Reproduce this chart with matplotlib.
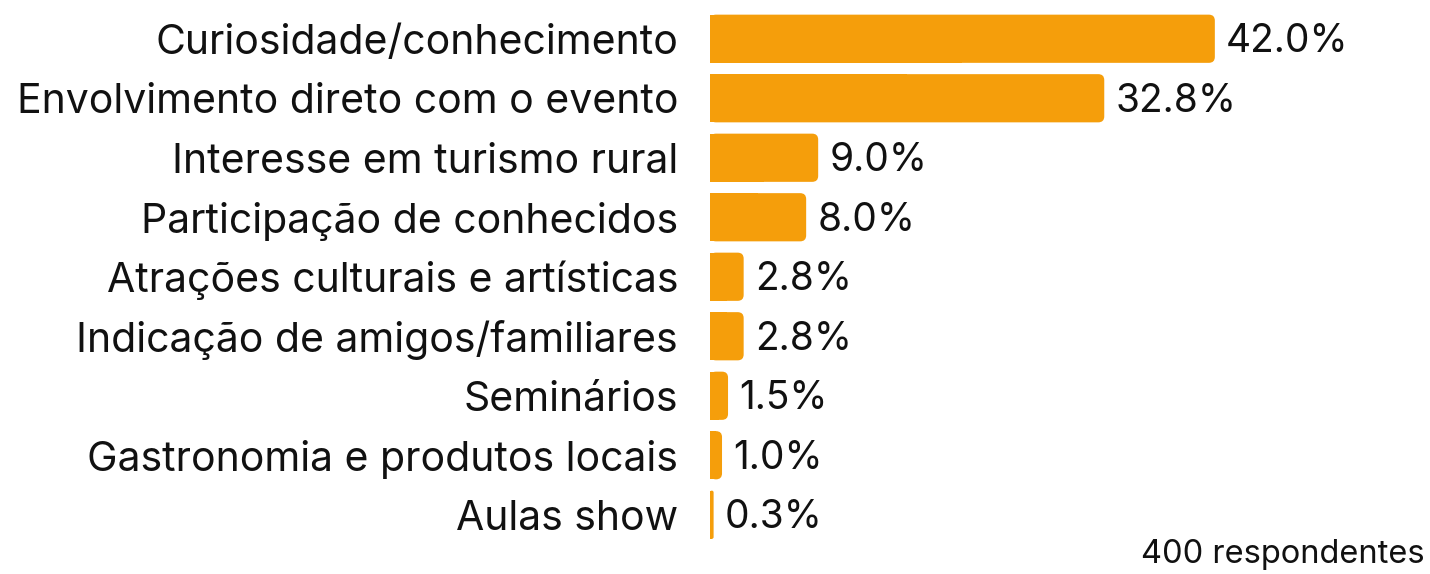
import matplotlib
matplotlib.use("Agg")
import matplotlib.pyplot as plt
from matplotlib.patches import FancyBboxPatch, Rectangle

# data
categories = [
    "Curiosidade/conhecimento",
    "Envolvimento direto com o evento",
    "Interesse em turismo rural",
    "Participação de conhecidos",
    "Atrações culturais e artísticas",
    "Indicação de amigos/familiares",
    "Seminários",
    "Gastronomia e produtos locais",
    "Aulas show",
]
values = [42.0, 32.8, 9.0, 8.0, 2.8, 2.8, 1.5, 1.0, 0.3]
note = "400 respondentes"

color = "#F59E0B"
plt.rcParams["font.family"] = ["Inter", "DejaVu Sans"]

fig = plt.figure(figsize=(14.3, 5.74), dpi=100)
ax = fig.add_axes([710 / 1430, 1 - 544.5 / 574, 720 / 1430, 535.5 / 574])

ypos = list(range(len(categories)))
bars = ax.barh(ypos, values, height=0.81, color=color)
ax.set_xlim(0, 720 / 12.02)
ax.set_ylim(len(categories) - 0.5, -0.5)

# swap the plain bars for ones with rounded right corners
for b in bars:
    x, y = b.get_x(), b.get_y()
    w, h = b.get_width(), b.get_height()
    b.set_visible(False)
    r = min(0.5, w / 2)
    ax.add_patch(FancyBboxPatch((x, y), w, h,
                                boxstyle=f"round,pad=0,rounding_size={r}",
                                mutation_aspect=0.1 / 0.5,
                                fc=color, ec="none"))
    ax.add_patch(Rectangle((x, y), w / 2, h, fc=color, ec="none", antialiased=False))

for yv, v in zip(ypos, values):
    ax.annotate(f"{v:.1f}%", (v, yv), xytext=(8, -2), textcoords="offset points",
                va="center", ha="left", fontsize=28, color="#111111")

ax.set_yticks(ypos)
ax.set_yticklabels(categories, fontsize=29.5, color="#111111")
ax.tick_params(axis="y", length=0, pad=23)
ax.set_xticks([])
for s in ax.spines.values():
    s.set_visible(False)

fig.text(1425 / 1430, 1 - 555 / 574, note, ha="right", va="center",
         fontsize=23.5, color="#111111")

fig.savefig("out.png", dpi=100)
